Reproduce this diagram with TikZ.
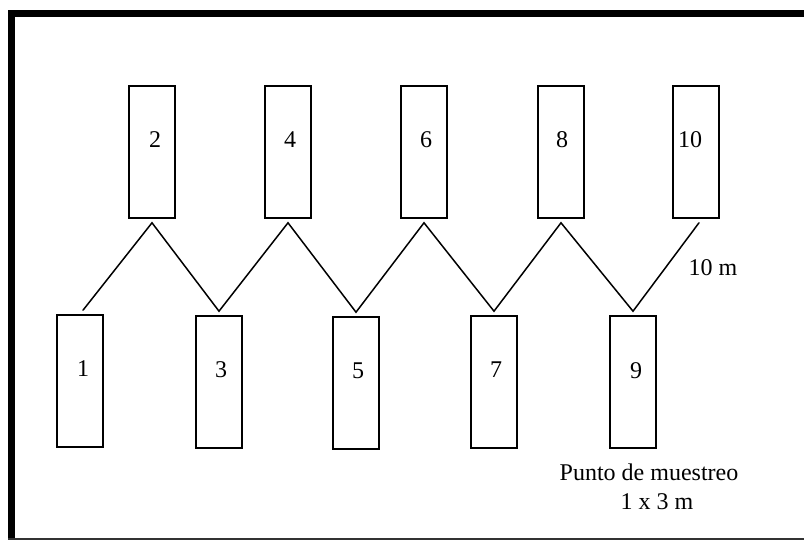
\documentclass[tikz,border=0pt]{standalone}
\usepackage{fontspec}
\setmainfont{Liberation Serif}
\begin{document}
\begin{tikzpicture}[x=1pt,y=-1pt,
  plot/.style={draw=black,line width=1.6pt,minimum width=46pt,minimum height=132pt,inner sep=0pt},
  num/.style={inner sep=0pt,font=\fontsize{24}{28}\selectfont},
  txt/.style={inner sep=0pt,anchor=base,font=\fontsize{24}{29}\selectfont},
  path/.style={line width=1.5pt,line cap=round}]
\useasboundingbox (0,0) rectangle (804,540);
% frame
\fill[black] (8,10) rectangle (810,17);
\fill[black] (8,10) rectangle (15,545);
\draw[line width=1.6pt,black!80] (8,539) -- (810,539);
% upper row of sampling plots
\node[plot] (b2)  at (152,152) {};
\node[plot] (b4)  at (288,152) {};
\node[plot] (b6)  at (424,152) {};
\node[plot] (b8)  at (561,152) {};
\node[plot] (b10) at (696,152) {};
% lower row of sampling plots
\node[plot] (b1) at (80,381) {};
\node[plot] (b3) at (219,382) {};
\node[plot] (b5) at (356,383) {};
\node[plot] (b7) at (494,382) {};
\node[plot] (b9) at (633,382) {};
% plot numbers
\node[num] at ([xshift=3pt,yshift=12pt]b2.center) {2};
\node[num] at ([xshift=2pt,yshift=12pt]b4.center) {4};
\node[num] at ([xshift=2pt,yshift=12pt]b6.center) {6};
\node[num] at ([xshift=1pt,yshift=12pt]b8.center) {8};
\node[num] at ([xshift=-6pt,yshift=12pt]b10.center) {10};
\node[num] at ([xshift=3pt,yshift=12pt]b1.center) {1};
\node[num] at ([xshift=2pt,yshift=12pt]b3.center) {3};
\node[num] at ([xshift=2pt,yshift=12pt]b5.center) {5};
\node[num] at ([xshift=2pt,yshift=12pt]b7.center) {7};
\node[num] at ([xshift=3pt,yshift=11pt]b9.center) {9};
% zigzag walking route
\draw[path] ([xshift=3pt,yshift=4pt]b1.north) -- ([yshift=-4pt]b2.south)
  -- ([yshift=4pt]b3.north) -- ([yshift=-4pt]b4.south)
  -- ([yshift=4pt]b5.north) -- ([yshift=-4pt]b6.south)
  -- ([yshift=4pt]b7.north) -- ([yshift=-4pt]b8.south)
  -- ([yshift=4pt]b9.north) -- ([xshift=3pt,yshift=-4pt]b10.south);
% labels
\node[txt] (dist) at (713,276) {10 m};
\node[txt] (lab1) at (649,480) {Punto de muestreo};
\node[txt] (lab2) at (657,509) {1 x 3 m};
\end{tikzpicture}
\end{document}
